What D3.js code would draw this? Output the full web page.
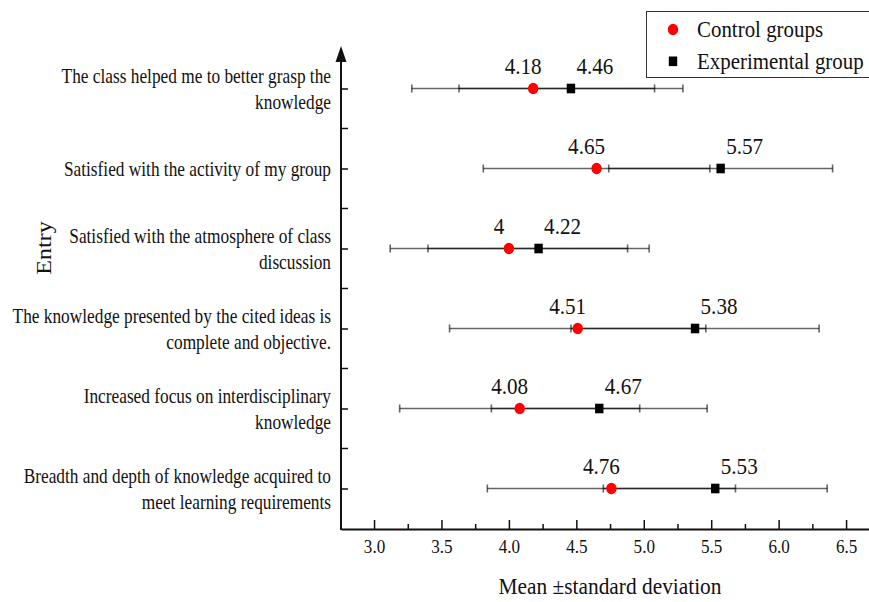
<!DOCTYPE html>
<html>
<head>
<meta charset="utf-8">
<script src="https://cdn.jsdelivr.net/npm/d3@7/dist/d3.min.js"></script>
<style>
  html, body { margin: 0; padding: 0; background: #fff; }
  svg { display: block; }
  text { font-family: "Liberation Serif", "Times New Roman", Times, serif; fill: #111; }
</style>
</head>
<body>
<svg id="chart" width="869" height="602"></svg>
<script>
// Survey items (top to bottom), each split into display lines
const items = [
  ["The class helped me to better grasp the", "knowledge"],
  ["Satisfied with the activity of my group"],
  ["Satisfied with the atmosphere of class", "discussion"],
  ["The knowledge presented by the cited ideas is", "complete and objective."],
  ["Increased focus on interdisciplinary", "knowledge"],
  ["Breadth and depth of knowledge acquired to", "meet learning requirements"]
];
const controlMean = [4.18, 4.65, 4, 4.51, 4.08, 4.76];
const controlSD   = [0.90, 0.84, 0.88, 0.95, 0.89, 0.92];
const expMean     = [4.46, 5.57, 4.22, 5.38, 4.67, 5.53];
const expSD       = [0.83, 0.83, 0.82, 0.92, 0.80, 0.83];
const xTicks      = [3.0, 3.5, 4.0, 4.5, 5.0, 5.5, 6.0, 6.5];
const xMinorTicks = [3.25, 3.75, 4.25, 4.75, 5.25, 5.75, 6.25];
const seriesNames = ["Control groups", "Experimental group"];

const svg = d3.select("#chart");
const itemKeys = items.map((d, i) => "item" + i);

const x = d3.scaleLinear().domain([2.755, 6.67]).range([341, 869]);
const y = d3.scalePoint().domain(itemKeys).range([88.5, 488.5]);
const step = y.step();
const axisY = 529;

// condensed text helper: places text at (tx,ty) squeezed horizontally
function squeezed(parent, tx, ty, sx, size, anchor, str) {
  return parent.append("text")
    .attr("transform", `translate(${tx},${ty}) scale(${sx},1)`)
    .attr("text-anchor", anchor)
    .attr("font-size", size)
    .text(str);
}

// ---- x axis (inward ticks) ----
const gx = svg.append("g").attr("transform", `translate(0,${axisY})`);
gx.call(d3.axisBottom(x).tickValues(xTicks).tickSizeInner(-9).tickSizeOuter(0)
  .tickPadding(11).tickFormat(d3.format(".1f")));
gx.select(".domain").attr("stroke", "#111").attr("stroke-width", 2);
gx.selectAll(".tick line").attr("stroke", "#111").attr("stroke-width", 1.5);
gx.selectAll(".tick text").attr("font-size", 19).attr("transform", "scale(0.9,1)")
  .style("font-family", '"Liberation Serif", "Times New Roman", serif').attr("fill", "#111");

const gxm = svg.append("g").attr("transform", `translate(0,${axisY})`);
gxm.call(d3.axisBottom(x).tickValues(xMinorTicks).tickSizeInner(-5).tickSizeOuter(0).tickFormat(""));
gxm.select(".domain").remove();
gxm.selectAll(".tick line").attr("stroke", "#111").attr("stroke-width", 1.5);

// ---- y axis with arrow ----
const gy = svg.append("g").attr("transform", "translate(341,0)");
gy.call(d3.axisLeft(y).tickSizeInner(-7).tickSizeOuter(0).tickPadding(10).tickFormat(""));
gy.select(".domain").remove();
gy.selectAll(".tick line").attr("stroke", "#111").attr("stroke-width", 1.5);

const minorY = itemKeys.slice(1).map(k => y(k) - step / 2);
gy.selectAll(".minor").data(minorY).join("line")
  .attr("class", "minor")
  .attr("x1", 0).attr("x2", 7).attr("y1", d => d).attr("y2", d => d)
  .attr("stroke", "#111").attr("stroke-width", 1.5);

gy.append("line").attr("x1", 0).attr("x2", 0)
  .attr("y1", axisY + 1).attr("y2", 58)
  .attr("stroke", "#111").attr("stroke-width", 2);
gy.append("path").attr("d", "M0,46 L5.5,62 L-5.5,62 Z").attr("fill", "#111");

// category labels, right aligned
const lineGap = 26;
items.forEach((lines, i) => {
  const cy = y(itemKeys[i]);
  const top = cy - (lines.length - 1) * lineGap / 2;
  lines.forEach((ln, j) => {
    squeezed(svg, 331, top + j * lineGap, 0.805, 21.5, "end", ln).attr("dy", "0.35em");
  });
});

// ---- error bars ----
const capH = 4;
function drawBars(means, sds, cls) {
  const g = svg.append("g").attr("class", cls)
    .attr("stroke", "#000").attr("stroke-opacity", 0.6).attr("stroke-width", 1.6);
  means.forEach((m, i) => {
    const cy = y(itemKeys[i]);
    const lo = x(m - sds[i]), hi = x(m + sds[i]);
    g.append("line").attr("x1", lo).attr("x2", hi).attr("y1", cy).attr("y2", cy);
    g.append("line").attr("x1", lo).attr("x2", lo).attr("y1", cy - capH).attr("y2", cy + capH);
    g.append("line").attr("x1", hi).attr("x2", hi).attr("y1", cy - capH).attr("y2", cy + capH);
  });
}
drawBars(controlMean, controlSD, "bars-control");
drawBars(expMean, expSD, "bars-exp");

// ---- markers ----
svg.append("g").selectAll("ellipse").data(controlMean).join("ellipse")
  .attr("cx", d => x(d)).attr("cy", (d, i) => y(itemKeys[i]))
  .attr("rx", 5.2).attr("ry", 5.8).attr("fill", "#ff0000");

svg.append("g").selectAll("rect").data(expMean).join("rect")
  .attr("x", d => x(d) - 4.2).attr("y", (d, i) => y(itemKeys[i]) - 4.8)
  .attr("width", 8.4).attr("height", 9.6).attr("fill", "#000");

// ---- value labels ----
const vlab = svg.append("g");
controlMean.forEach((m, i) => {
  squeezed(vlab, x(m) - 10, y(itemKeys[i]) - 14.5, 0.88, 24, "middle", String(m));
});
expMean.forEach((m, i) => {
  squeezed(vlab, x(m) + 24, y(itemKeys[i]) - 14.5, 0.88, 24, "middle", String(m));
});

// ---- axis titles ----
squeezed(svg, 610, 594, 0.93, 23, "middle", "Mean \u00B1standard deviation");
svg.append("text")
  .attr("transform", `translate(51,248) scale(0.87,1) rotate(-90)`)
  .attr("text-anchor", "middle").attr("font-size", 24).text("Entry");

// ---- legend ----
const lg = svg.append("g");
lg.append("rect").attr("x", 646.5).attr("y", 11.5).attr("width", 240).attr("height", 66)
  .attr("fill", "#fff").attr("stroke", "#333").attr("stroke-width", 1);
lg.append("ellipse").attr("cx", 673).attr("cy", 29.5).attr("rx", 5.2).attr("ry", 5.8).attr("fill", "#ff0000");
lg.append("rect").attr("x", 668.8).attr("y", 56.5).attr("width", 8.4).attr("height", 9.6).attr("fill", "#000");
squeezed(lg, 697, 37, 0.93, 22.5, "start", seriesNames[0]);
squeezed(lg, 697, 69, 0.93, 22.5, "start", seriesNames[1]);
</script>
</body>
</html>
